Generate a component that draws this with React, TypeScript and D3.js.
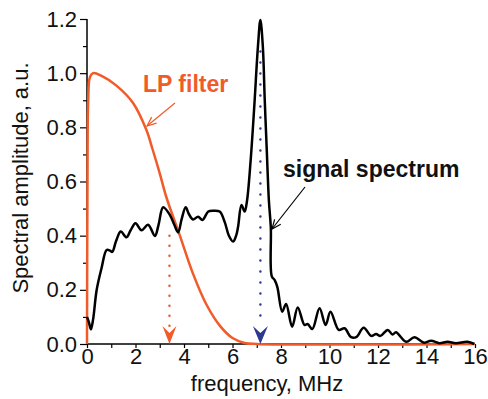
import { type FC, useEffect, useRef } from 'react';
import * as d3 from 'd3';

// signal spectrum, frequency (MHz) / amplitude (a.u.)
const signalFreq = [
  0, 0.08, 0.16, 0.25, 0.4, 0.6, 0.81, 0.95, 1.04, 1.2, 1.39, 1.63, 1.8, 2.0, 2.25, 2.52, 2.8, 2.95,
  3.14, 3.42, 3.6, 3.76, 3.9, 4.07, 4.2, 4.37, 4.58, 4.76, 5.0, 5.2, 5.47, 5.68, 5.85, 6.02, 6.15,
  6.23, 6.37, 6.5, 6.6, 6.75, 6.9, 7.05, 7.15, 7.25, 7.33, 7.42, 7.5, 7.58, 7.62, 7.74, 7.85, 8.05,
  8.21, 8.46, 8.69, 8.97, 9.1, 9.29, 9.59, 9.84, 10.04, 10.38, 10.62, 10.89, 11.1, 11.41, 11.72,
  11.92, 12.1, 12.4, 12.6, 12.74, 13.16, 13.5, 13.9, 14.19, 14.53, 14.87, 15.21, 15.69, 15.97,
];
const signalAmp = [
  0.1, 0.08, 0.054, 0.09, 0.2, 0.28, 0.347, 0.345, 0.34, 0.38, 0.415, 0.394, 0.42, 0.446, 0.42, 0.44,
  0.399, 0.44, 0.505, 0.476, 0.44, 0.412, 0.46, 0.505, 0.48, 0.46, 0.47, 0.458, 0.489, 0.492, 0.489,
  0.45, 0.4, 0.378, 0.4, 0.433, 0.513, 0.489, 0.53, 0.68, 0.88, 1.1, 1.196, 1.1, 0.9, 0.7, 0.53, 0.43,
  0.25, 0.236, 0.21, 0.119, 0.148, 0.064, 0.135, 0.07, 0.074, 0.055, 0.132, 0.07, 0.119, 0.052,
  0.058, 0.025, 0.025, 0.06, 0.03, 0.037, 0.03, 0.052, 0.035, 0.043, 0.008, 0.025, 0.005, 0.012,
  0.003, 0.008, 0.003, 0.008, 0,
];

// low-pass filter response
const filterFreq = [0, 0.02, 0.05, 0.12, 0.25, 0.6, 1.2, 1.9, 2.45, 2.7, 3.0, 3.28, 3.83, 4.37, 4.93, 5.5, 6.0, 6.5, 7.0, 16];
const filterAmp = [0, 0.6, 0.9, 0.985, 1.0, 0.99, 0.955, 0.89, 0.79, 0.72, 0.63, 0.54, 0.4, 0.26, 0.145, 0.065, 0.022, 0.004, 0, 0];

const xTicks = [0, 2, 4, 6, 8, 10, 12, 14, 16];
const yTicks = [0, 0.2, 0.4, 0.6, 0.8, 1.0, 1.2];

// cut-off markers
const cutoffFilter = 3.4;
const cutoffSignal = 7.15;

const red = '#f15a29';
const blue = '#2b3990';
const font = '"Liberation Sans", Arial, sans-serif';

const width = 488;
const height = 399;
const margin = { top: 19, right: 13, bottom: 55, left: 87 };

const App: FC = () => {
  const ref = useRef<SVGSVGElement>(null);

  useEffect(() => {
    const { current: dom } = ref;
    if (!dom) return;
    document.body.style.margin = '0';
    const svg = d3.select(dom);
    svg.selectAll('*').remove();

    const gW = width - margin.left - margin.right;
    const gH = height - margin.top - margin.bottom;
    const x = d3.scaleLinear().domain([0, 16]).range([margin.left, margin.left + gW]);
    const y = d3.scaleLinear().domain([0, 1.2]).range([margin.top + gH, margin.top]);

    // axes
    const xAxis = svg
      .append('g')
      .attr('transform', `translate(0,${y(0)})`)
      .call(
        d3.axisBottom(x).tickValues(d3.range(0, 17, 1)).tickSize(4).tickFormat((d) =>
          xTicks.includes(+d) ? String(d) : ''
        )
      );
    xAxis.select('.domain').attr('stroke', '#000').attr('stroke-width', 1.5);
    xAxis.selectAll('line').attr('stroke', '#000').attr('stroke-width', 1.2);
    xAxis
      .selectAll('text')
      .attr('font-family', font)
      .attr('font-size', 22)
      .attr('fill', '#111')
      .attr('dy', '0.71em')
      .attr('y', 4);
    xAxis.select('.domain').attr('d', `M${x(0)},0H${x(16)}`);

    const yAxis = svg
      .append('g')
      .attr('transform', `translate(${x(0)},0)`)
      .call(
        d3.axisLeft(y).tickValues(d3.range(0, 13).map((i) => i / 10)).tickSize(4).tickFormat((d) =>
          yTicks.some((t) => Math.abs(t - +d) < 1e-9) ? d3.format('.1f')(+d) : ''
        )
      );
    yAxis.select('.domain').attr('stroke', '#000').attr('stroke-width', 1.5).attr('d', `M0,${y(0)}V${y(1.2)}`);
    yAxis
      .selectAll('.tick')
      .select('line')
      .attr('stroke', '#000')
      .attr('stroke-width', 1.2)
      .attr('x2', (d) => (yTicks.some((t) => Math.abs(t - +d) < 1e-9) ? -7 : -4));
    yAxis
      .selectAll('text')
      .attr('font-family', font)
      .attr('font-size', 22)
      .attr('fill', '#111')
      .attr('x', -10);

    // axis titles
    svg
      .append('text')
      .attr('x', 267)
      .attr('y', 391)
      .attr('text-anchor', 'middle')
      .attr('font-family', font)
      .attr('font-size', 22)
      .attr('fill', '#111')
      .text('frequency, MHz');
    svg
      .append('text')
      .attr('transform', `translate(28,178) rotate(-90)`)
      .attr('text-anchor', 'middle')
      .attr('font-family', font)
      .attr('font-size', 22)
      .attr('fill', '#111')
      .text('Spectral amplitude, a.u.');

    // curves
    const line = d3
      .line<[number, number]>()
      .x((d) => x(d[0]))
      .y((d) => y(d[1]))
      .curve(d3.curveCatmullRom.alpha(0.5));

    const filterData = filterFreq.map((f, i) => [f, filterAmp[i]] as [number, number]);
    const signalData = signalFreq.map((f, i) => [f, signalAmp[i]] as [number, number]);

    // dotted cut-off lines
    svg
      .append('line')
      .attr('x1', x(cutoffFilter))
      .attr('x2', x(cutoffFilter))
      .attr('y1', y(0.4))
      .attr('y2', y(0.05))
      .attr('stroke', red)
      .attr('stroke-width', 2.5)
      .attr('stroke-linecap', 'round')
      .attr('stroke-dasharray', '0,10');
    svg
      .append('line')
      .attr('x1', x(cutoffSignal))
      .attr('x2', x(cutoffSignal))
      .attr('y1', y(1.08))
      .attr('y2', y(0.07))
      .attr('stroke', blue)
      .attr('stroke-width', 2.5)
      .attr('stroke-linecap', 'round')
      .attr('stroke-dasharray', '0,11');

    svg
      .append('path')
      .datum(filterData)
      .attr('fill', 'none')
      .attr('stroke', red)
      .attr('stroke-width', 2.5)
      .attr('d', line);

    svg
      .append('path')
      .datum(signalData)
      .attr('fill', 'none')
      .attr('stroke', '#000')
      .attr('stroke-width', 2.5)
      .attr('stroke-linejoin', 'round')
      .attr('d', line);

    // arrowheads on the x axis
    const head = (cx: number, color: string, w: number) => {
      const by = y(0);
      svg
        .append('path')
        .attr('d', `M${cx},${by}L${cx - w / 2},${by - 18}L${cx},${by - 11}L${cx + w / 2},${by - 18}Z`)
        .attr('fill', color);
    };
    head(x(cutoffFilter), red, 14);
    head(x(cutoffSignal), blue, 15);

    // annotations
    const pointer = (x1: number, y1: number, x2: number, y2: number, color: string) => {
      svg
        .append('line')
        .attr('x1', x1)
        .attr('y1', y1)
        .attr('x2', x2)
        .attr('y2', y2)
        .attr('stroke', color)
        .attr('stroke-width', 1.2);
      const a = Math.atan2(y1 - y2, x1 - x2);
      const len = 10;
      const spread = 0.4;
      svg
        .append('path')
        .attr(
          'd',
          `M${x2 + len * Math.cos(a + spread)},${y2 + len * Math.sin(a + spread)}L${x2},${y2}L${
            x2 + len * Math.cos(a - spread)
          },${y2 + len * Math.sin(a - spread)}`
        )
        .attr('fill', 'none')
        .attr('stroke', color)
        .attr('stroke-width', 1.2);
    };
    pointer(175, 103, 147, 126, red);
    pointer(305, 187, 272, 229, '#000');

    svg
      .append('text')
      .attr('x', 143)
      .attr('y', 92)
      .attr('font-family', font)
      .attr('font-weight', 'bold')
      .attr('font-size', 23)
      .attr('fill', red)
      .text('LP filter');
    svg
      .append('text')
      .attr('x', 283)
      .attr('y', 177)
      .attr('font-family', font)
      .attr('font-weight', 'bold')
      .attr('font-size', 23)
      .attr('fill', '#111')
      .text('signal spectrum');
  }, []);

  return <svg ref={ref} width={width} height={height} style={{ display: 'block', background: '#fff' }} />;
};

export default App;
